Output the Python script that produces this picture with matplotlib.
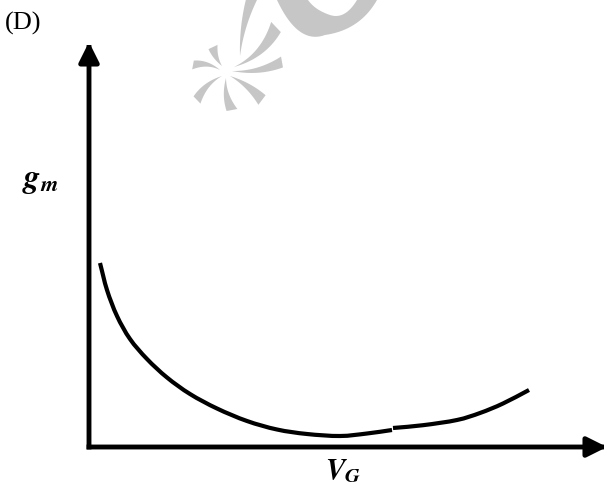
import numpy as np
import matplotlib
matplotlib.use("Agg")
import matplotlib.pyplot as plt
from matplotlib.patches import Polygon, FancyArrowPatch, PathPatch
from matplotlib.path import Path

plt.rcParams['mathtext.fontset'] = 'stix'

# curve (arbitrary units, origin at the axes corner)
vg_left = [11, 18, 28, 41, 58, 78, 101, 128, 158, 188, 218, 251, 278, 303]
gm_left = [184, 157, 131, 108, 88, 69.5, 53, 38.5, 26, 17.5, 13, 11, 13.5, 17]
vg_right = [304, 334, 368, 391, 414, 440]
gm_right = [19, 21.8, 27, 34, 43.5, 57]

X_MAX = 518
Y_MAX = 405

W, H = 607, 488
fig = plt.figure(figsize=(W / 100, H / 100), dpi=100)

# watermark layer in pixel coordinates
bg = fig.add_axes([0, 0, 1, 1])
bg.set_xlim(0, W)
bg.set_ylim(H, 0)
bg.axis('off')

WM = '#c6c6c6'


def bez(p0, p1, p2, n=20):
    t = np.linspace(0, 1, n)[:, None]
    return (1 - t) ** 2 * p0 + 2 * (1 - t) * t * p1 + t ** 2 * p2


def blade(base, tip, width, bend):
    base, tip = np.array(base, float), np.array(tip, float)
    d = tip - base
    L = np.hypot(*d)
    n = np.array([-d[1], d[0]]) / L
    ctrl = (base + tip) / 2 + n * bend * L
    s1 = bez(base, ctrl + n * width * 0.35, tip + n * width / 2)
    s2 = bez(tip - n * width / 2, ctrl - n * width * 0.1, base)
    bg.add_patch(Polygon(np.vstack([s1, s2]), closed=True, fc=WM, ec='none'))


blade((220, 70), (193, 65), 9, 0.18)
blade((222, 66), (213, 47), 10, -0.2)
blade((240, 56), (252, -2), 11, -0.1)
blade((234, 67), (276, 27), 14, 0.18)
blade((232, 71), (282, 62), 11, 0.12)
blade((230, 76), (262, 100), 12, -0.15)
blade((226, 78), (232, 110), 11, 0.12)
blade((222, 76), (197, 100), 10, 0.15)

outer = bez(np.array([277., 0]), np.array([298., 45]), np.array([325., 35]))
outer2 = bez(np.array([325., 35]), np.array([360., 30]), np.array([377., 0]))
inner = bez(np.array([357., 0]), np.array([345., 20]), np.array([330., 15]))
inner2 = bez(np.array([330., 15]), np.array([315., 10]), np.array([308., 0]))
bg.add_patch(Polygon(np.vstack([outer, outer2, inner, inner2]), closed=True,
                     fc=WM, ec='none'))

# main axes, corner at pixel (89, 447)
ax = fig.add_axes([89 / W, (H - 447) / H, X_MAX / W, Y_MAX / H])
ax.set_xlim(0, X_MAX)
ax.set_ylim(0, Y_MAX)
ax.axis('off')
ax.patch.set_alpha(0)

arrow_kw = dict(arrowstyle='-|>,head_length=0.8,head_width=0.4',
                mutation_scale=15, lw=3.5, color='black',
                shrinkA=0, shrinkB=0, clip_on=False, capstyle='projecting')
ax.add_patch(FancyArrowPatch((0, 0), (0, Y_MAX), **arrow_kw))
ax.add_patch(FancyArrowPatch((0, 0), (X_MAX, 0), **arrow_kw))


def smooth_path(xs, ys):
    # Catmull-Rom through the read points, drawn as cubic Bezier segments
    p = np.column_stack([xs, ys]).astype(float)
    p_ext = np.vstack([2 * p[0] - p[1], p, 2 * p[-1] - p[-2]])
    verts = [p[0]]
    codes = [Path.MOVETO]
    for i in range(1, len(p_ext) - 2):
        c1 = p_ext[i] + (p_ext[i + 1] - p_ext[i - 1]) / 6
        c2 = p_ext[i + 1] - (p_ext[i + 2] - p_ext[i]) / 6
        verts += [c1, c2, p_ext[i + 1]]
        codes += [Path.CURVE4] * 3
    return Path(verts, codes)


for xs, ys in [(vg_left, gm_left), (vg_right, gm_right)]:
    ax.add_patch(PathPatch(smooth_path(xs, ys), fc='none', ec='black', lw=3,
                           capstyle='butt'))

fig.text(5 / W, 1 - 23 / H, '(D)', fontfamily='Liberation Serif', fontsize=19,
         va='center', ha='left')
fig.text(40 / W, 1 - 180 / H, r'$\mathbfit{g}_{\mathbfit{m}}$', fontsize=23,
         va='center', ha='center')
fig.text(343 / W, 1 - 471 / H, r'$\mathbfit{V}_{\mathbfit{G}}$', fontsize=21,
         va='center', ha='center')

fig.savefig('out.png', dpi=100)
